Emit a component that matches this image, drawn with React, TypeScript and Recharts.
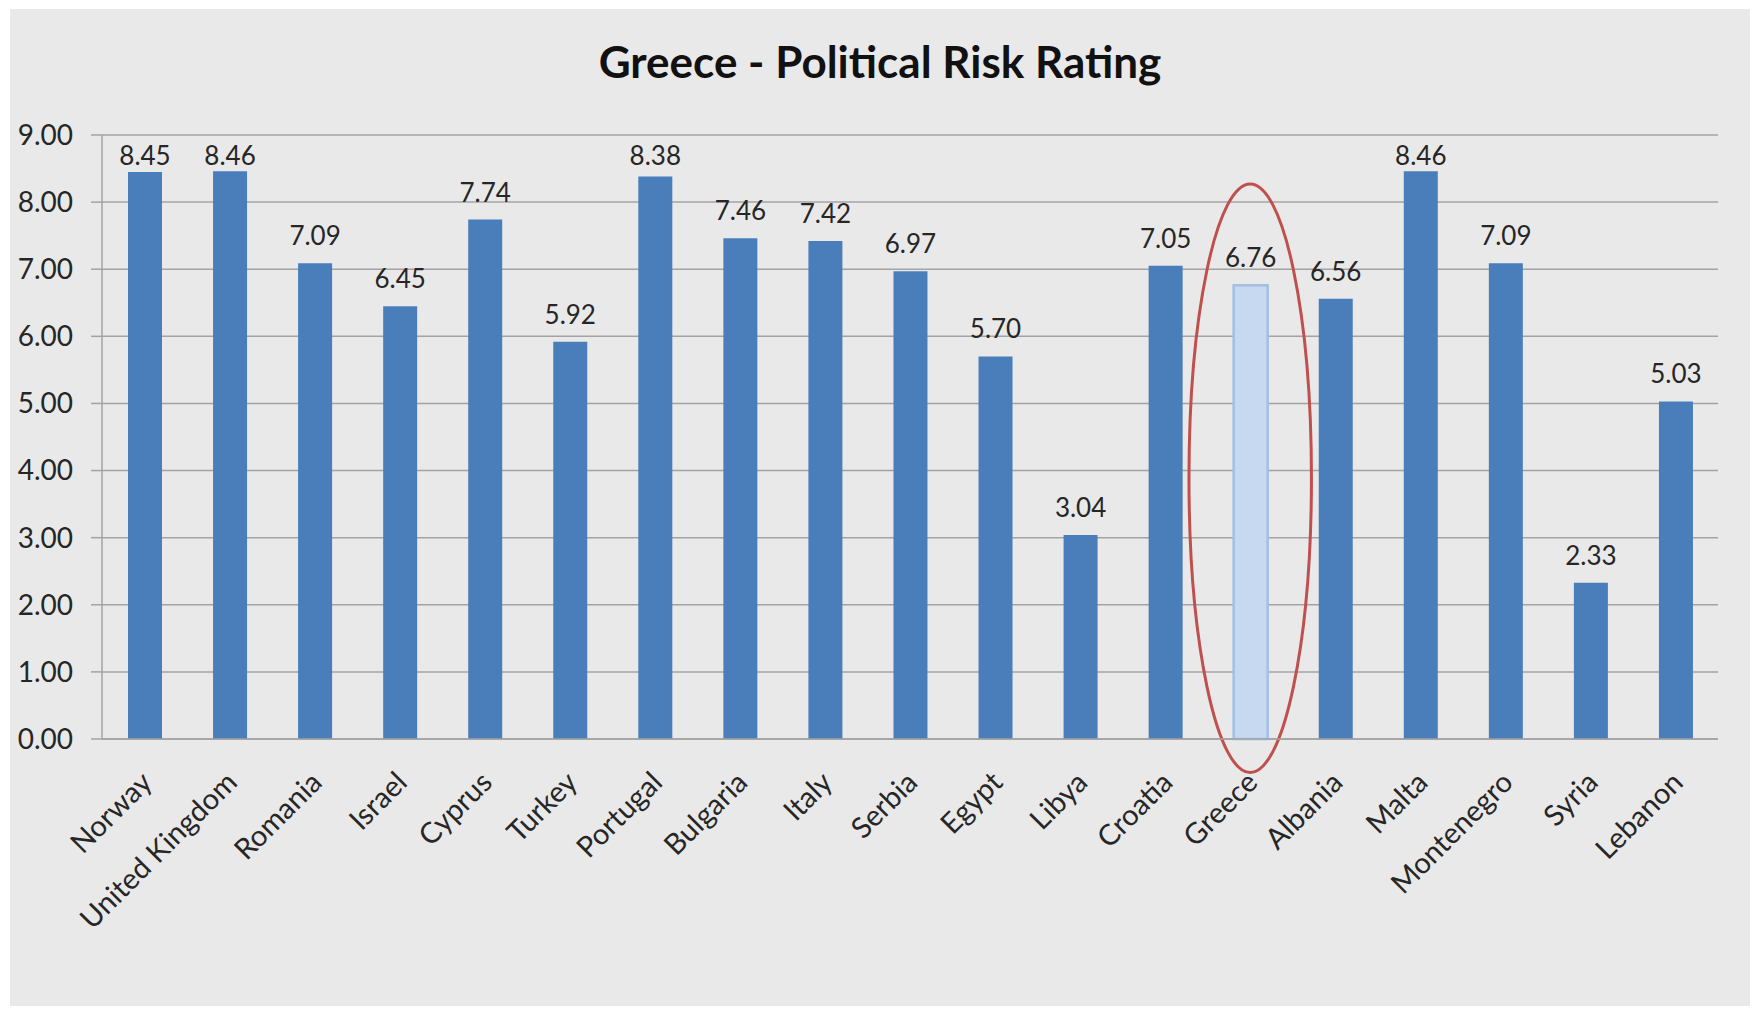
import React from 'react';
import { BarChart, Bar, XAxis, YAxis, CartesianGrid, Cell, LabelList, ReferenceArea } from 'recharts';

// Political risk rating per country
const countries = [
  'Norway', 'United Kingdom', 'Romania', 'Israel', 'Cyprus', 'Turkey', 'Portugal',
  'Bulgaria', 'Italy', 'Serbia', 'Egypt', 'Libya', 'Croatia', 'Greece', 'Albania',
  'Malta', 'Montenegro', 'Syria', 'Lebanon',
];
const ratings = [
  8.45, 8.46, 7.09, 6.45, 7.74, 5.92, 8.38, 7.46, 7.42, 6.97, 5.7, 3.04, 7.05, 6.76,
  6.56, 8.46, 7.09, 2.33, 5.03,
];
const yTicks = [0, 1, 2, 3, 4, 5, 6, 7, 8, 9];
const highlighted = 'Greece';
// vertical extent of the red circle drawn around the highlighted bar, in rating units
const circleTop = 8.27;
const circleBottom = -0.5;

const chartData = countries.map((country, i) => ({ country, rating: ratings[i] }));

const TEXT = '#262626';
const GRID = '#a3a3a3';
const PLOT_TOP = 126;

function CategoryTick({ x, y, payload }: any) {
  return (
    <g transform={`translate(${x + 2},${y + 30})`}>
      <text transform="rotate(-45)" textAnchor="end" dy="0.35em" fontSize={29} fill={TEXT}>
        {payload.value}
      </text>
    </g>
  );
}

// value label above each bar; kept inside the plot like Excel does
function ValueLabel(props: any) {
  const vb = props.viewBox || props;
  const { x, y, width } = vb;
  const top = Math.min(y, y + (vb.height || 0));
  const cy = Math.max(top - 28, PLOT_TOP + 20);
  return (
    <text x={x + width / 2} y={cy} textAnchor="middle" dominantBaseline="central" fontSize={26} fill={TEXT}>
      {Number(props.value).toFixed(2)}
    </text>
  );
}

function CircleShape(props: any) {
  const { x, y, width, height } = props;
  return (
    <ellipse
      cx={x + width / 2}
      cy={y + height / 2}
      rx={width * 0.72}
      ry={Math.abs(height) / 2}
      fill="none"
      stroke="#c0504d"
      strokeWidth={3}
    />
  );
}

export default function App() {
  return (
    <div
      style={{
        position: 'absolute',
        left: 10,
        top: 9,
        width: 1740,
        height: 997,
        background: '#e9e9e9',
        fontFamily: 'Lato, sans-serif',
      }}
    >
      <div
        style={{
          position: 'absolute',
          top: 30,
          left: 0,
          width: '100%',
          textAlign: 'center',
          fontSize: 44,
          lineHeight: 1,
          fontWeight: 700,
          color: '#111',
        }}
      >
        Greece - Political Risk Rating
      </div>
      <BarChart
        width={1740}
        height={997}
        data={chartData}
        margin={{ top: PLOT_TOP, right: 32, left: 0, bottom: 67 }}
      >
        <CartesianGrid vertical={false} stroke={GRID} strokeWidth={1.5} />
        <XAxis
          dataKey="country"
          interval={0}
          height={200}
          tickLine={false}
          axisLine={{ stroke: GRID, strokeWidth: 1.5 }}
          tick={<CategoryTick />}
        />
        <YAxis
          width={92}
          domain={[0, 9]}
          ticks={yTicks}
          tickFormatter={(v: number) => v.toFixed(2)}
          tick={{ fontSize: 28, fill: TEXT }}
          tickSize={11}
          tickMargin={18}
          axisLine={{ stroke: GRID, strokeWidth: 1.5 }}
          tickLine={{ stroke: GRID, strokeWidth: 1.5 }}
        />
        <Bar dataKey="rating" barSize={34} isAnimationActive={false}>
          {chartData.map((d) => (
            <Cell
              key={d.country}
              fill={d.country === highlighted ? '#c6d9f1' : '#4a7ebb'}
              stroke={d.country === highlighted ? '#a3bfe2' : 'none'}
              strokeWidth={d.country === highlighted ? 2.5 : 0}
            />
          ))}
          <LabelList dataKey="rating" content={<ValueLabel />} />
        </Bar>
        <ReferenceArea
          x1={highlighted}
          x2={highlighted}
          y1={circleBottom}
          y2={circleTop}
          ifOverflow="visible"
          shape={<CircleShape />}
        />
      </BarChart>
    </div>
  );
}
